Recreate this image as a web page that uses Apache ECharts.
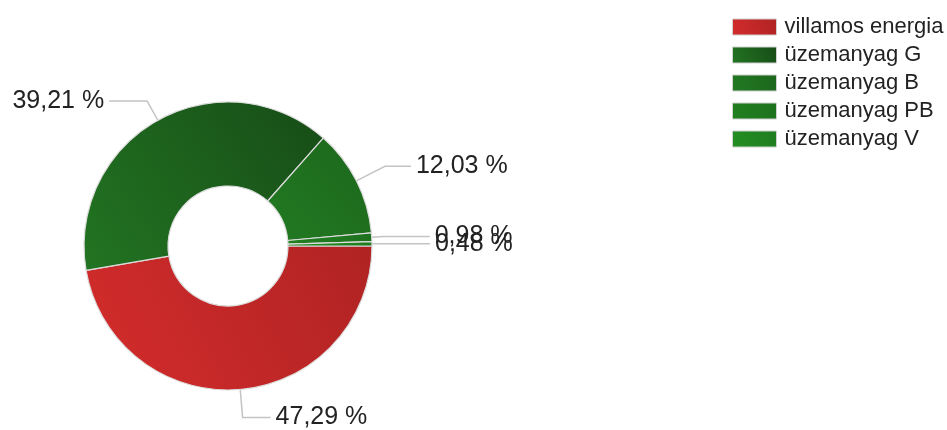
<!DOCTYPE html>
<html>
<head>
<meta charset="utf-8">
<script src="https://cdn.jsdelivr.net/npm/echarts@6/dist/echarts.min.js"></script>
<style>
  html, body { margin: 0; padding: 0; background: #fff; }
  #chart { width: 947px; height: 430px; }
</style>
</head>
<body>
<div id="chart"></div>
<script>
// energy mix shares
var categories = ['villamos energia', 'üzemanyag G', 'üzemanyag B', 'üzemanyag PB', 'üzemanyag V'];
var shares = [47.29, 39.21, 12.03, 0.98, 0.48];

// light / dark end of each slice's gradient
var lightColors = ['#d42c2c', '#227422', '#227a22', '#20801f', '#238f23'];
var darkColors = ['#b02323', '#174c17', '#1c661c', '#1e711e', '#1f7d1f'];
var lineLengths = [[28, 28], [22, 38], [32, 26], [12, 46], [12, 46]];

var chart = echarts.init(document.getElementById('chart'));

var pieData = categories.map(function (name, i) {
  return {
    name: name,
    value: shares[i],
    itemStyle: {
      color: new echarts.graphic.LinearGradient(0, 1, 1, 0, [
        { offset: 0, color: lightColors[i] },
        { offset: 1, color: darkColors[i] }
      ])
    },
    labelLine: { length: lineLengths[i][0], length2: lineLengths[i][1] }
  };
});

chart.setOption({
  animation: false,
  backgroundColor: '#fff',
  legend: {
    orient: 'vertical',
    left: 727,
    top: 11,
    itemWidth: 44,
    itemHeight: 16,
    itemGap: 6,
    icon: 'rect',
    itemStyle: { borderColor: '#d0d0d0', borderWidth: 1 },
    textStyle: {
      fontFamily: 'Liberation Sans, Arial, sans-serif',
      fontSize: 22,
      color: '#222',
      padding: [0, 0, 0, 3]
    },
    data: categories
  },
  series: [{
    type: 'pie',
    center: [228, 246],
    radius: [60, 144],
    startAngle: 0,
    clockwise: true,
    avoidLabelOverlap: false,
    labelLayout: { hideOverlap: false },
    itemStyle: { borderColor: '#dcdcdc', borderWidth: 1.2 },
    label: {
      show: true,
      formatter: function (p) {
        return p.value.toFixed(2).replace('.', ',') + ' %';
      },
      fontFamily: 'Liberation Sans, Arial, sans-serif',
      fontSize: 25,
      color: '#222'
    },
    labelLine: {
      show: true,
      lineStyle: { color: '#c4c4c4', width: 1.5 }
    },
    emphasis: { disabled: true },
    data: pieData
  }]
});
</script>
</body>
</html>
